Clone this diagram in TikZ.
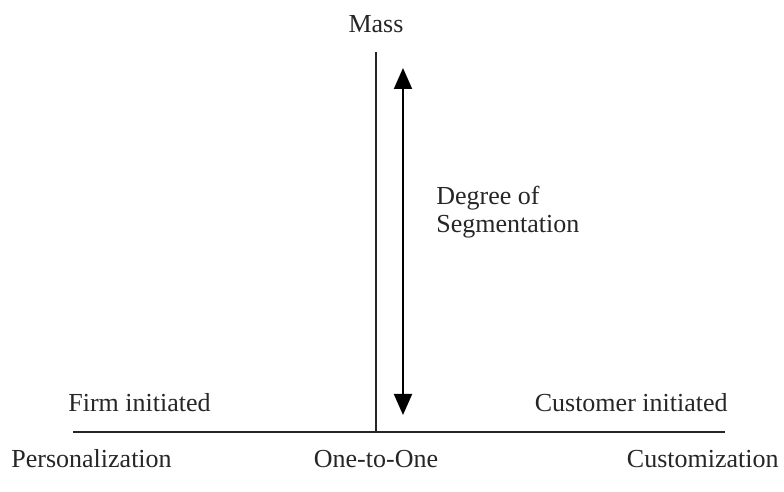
\documentclass[tikz,border=0pt]{standalone}
\usepackage{fontspec}
\setmainfont{Liberation Serif}
\usetikzlibrary{arrows.meta,positioning}
\tikzset{
  axislabel/.style={text=black!85, inner sep=0pt, font=\fontsize{13}{14}\selectfont},
  axisline/.style={line width=1pt, draw=black!85},
  segarrow/.style={{Triangle[length=10.5pt,width=9pt]}-{Triangle[length=10.5pt,width=9pt]}, line width=1pt, draw=black},
}

\begin{document}
\begin{tikzpicture}[x=0.5pt, y=-0.5pt]
    \useasboundingbox (0,0) rectangle (784,492);
    % axes
    \coordinate (axtop) at (376,52);
    \coordinate (axorigin) at (376,432);
    \coordinate (axleft) at (73,432);
    \coordinate (axright) at (725,432);
    \coordinate (segtop) at (403,68);
    \coordinate (segbot) at (403,415);
    \node[axislabel, anchor=base] (mass) at (376,33) {Mass};
    \node[axislabel, anchor=base west, align=left] (degree) at (436,233) {Degree of\\Segmentation};
    \node[axislabel, anchor=base west] (firm) at (68,412) {Firm initiated};
    \node[axislabel, anchor=base east] (customer) at (728,412) {Customer initiated};
    \node[axislabel, anchor=base west] (personal) at (11,468) {Personalization};
    \node[axislabel, anchor=base] (onetoone) at (376,468) {One-to-One};
    \node[axislabel, anchor=base east] (custom) at (779,468) {Customization};
    \draw[axisline] (axtop) -- (axorigin);
    \draw[axisline] (axleft) -- (axright);
    \draw[segarrow] (segtop) -- (segbot);
\end{tikzpicture}
\end{document}
